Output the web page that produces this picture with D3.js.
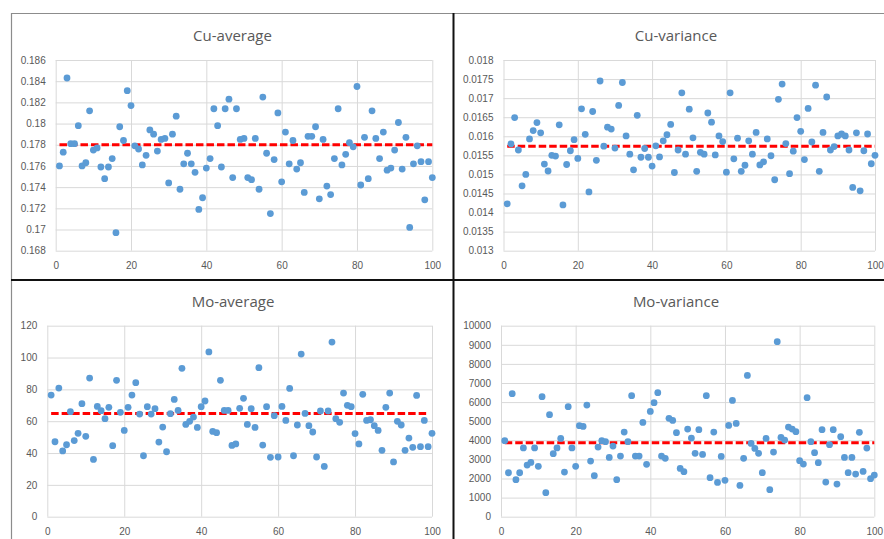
<!DOCTYPE html>
<html><head><meta charset="utf-8">
<script src="https://cdn.jsdelivr.net/npm/d3@7"></script>
<style>body{margin:0;background:#fff;} svg{display:block;}</style>
</head><body><svg id="c" width="884" height="539"></svg>
<script>
// ---------- data ----------
const titles = ["Cu-average", "Cu-variance", "Mo-average", "Mo-variance"];

const cuAverage = [
0.1760,0.1773,0.1843,0.1781,0.1781,0.1798,0.1760,0.1763,0.1812,0.1775,
0.1777,0.1759,0.1748,0.1759,0.1767,0.1697,0.1797,0.1784,0.1831,0.1817,
0.1779,0.1776,0.1761,0.1770,0.1794,0.1790,0.1774,0.1785,0.1786,0.1744,
0.1790,0.1807,0.1738,0.1762,0.1772,0.1762,0.1754,0.1719,0.1730,0.1758,
0.1767,0.1814,0.1798,0.1759,0.1814,0.1823,0.1749,0.1814,0.1785,0.1786,
0.1749,0.1747,0.1786,0.1738,0.1825,0.1772,0.1715,0.1766,0.1810,0.1745,
0.1792,0.1762,0.1784,0.1757,0.1763,0.1735,0.1788,0.1788,0.1797,0.1729,
0.1785,0.1741,0.1733,0.1767,0.1814,0.1761,0.1771,0.1782,0.1778,0.1835,
0.1742,0.1787,0.1748,0.1812,0.1786,0.1767,0.1792,0.1756,0.1758,0.1775,
0.1801,0.1757,0.1787,0.1702,0.1762,0.1779,0.1764,0.1728,0.1764,0.1749];

const cuVariance = [
0.01423,0.01580,0.01649,0.01564,0.01470,0.01500,0.01593,0.01615,0.01636,0.01609,
0.01527,0.01509,0.01550,0.01548,0.01630,0.01420,0.01526,0.01562,0.01591,0.01542,
0.01672,0.01605,0.01454,0.01665,0.01537,0.01745,0.01574,0.01624,0.01619,0.01569,
0.01681,0.01741,0.01601,0.01553,0.01512,0.01655,0.01545,0.01568,0.01545,0.01522,
0.01575,0.01546,0.01588,0.01604,0.01631,0.01505,0.01564,0.01714,0.01553,0.01671,
0.01596,0.01508,0.01558,0.01553,0.01661,0.01637,0.01551,0.01601,0.01586,0.01506,
0.01714,0.01541,0.01595,0.01508,0.01524,0.01588,0.01553,0.01610,0.01525,0.01533,
0.01593,0.01549,0.01486,0.01697,0.01737,0.01581,0.01502,0.01561,0.01649,0.01613,
0.01539,0.01673,0.01585,0.01734,0.01508,0.01610,0.01703,0.01564,0.01573,0.01601,
0.01606,0.01601,0.01564,0.01466,0.01609,0.01457,0.01562,0.01606,0.01528,0.01550];

const moAverage = [
76.4,47.1,80.8,41.3,45.2,66.0,47.8,52.4,71.0,50.5,
87.1,36.0,69.3,66.6,61.6,68.7,44.6,85.7,65.6,54.2,
68.7,76.4,84.2,64.5,38.3,69.1,64.5,67.9,46.9,56.3,
40.8,64.7,73.7,66.8,93.2,58.0,59.9,62.6,56.1,69.1,
72.7,103.5,53.6,52.8,85.7,66.8,66.8,44.8,45.7,68.1,
74.4,58.0,67.9,56.1,93.6,45.0,69.1,37.3,63.5,37.5,
69.3,60.5,80.6,38.3,57.6,102.2,64.9,57.2,53.2,37.5,
66.4,31.6,66.4,109.7,61.6,59.3,77.7,70.0,69.1,52.2,
45.7,76.9,60.5,60.9,57.2,54.2,41.7,68.7,77.7,34.4,
59.9,57.6,41.7,49.4,43.6,76.2,44.0,60.5,44.0,52.4];

const moVariance = [
3980,2300,6440,1940,2300,3600,2705,2844,3600,2635,
6282,1256,5340,3298,3600,4100,2338,5759,3600,2635,
4764,4729,5846,2914,2146,3647,3980,3926,3106,3699,
1937,3176,4432,3926,6334,3176,3176,4938,2740,5514,
5968,6491,3176,3054,5148,5043,4397,2530,2356,4589,
4118,3316,4554,3263,6334,2042,4432,1797,3158,1902,
4781,6090,4886,1640,3054,7399,3839,3577,3316,2303,
4100,1413,3385,9161,4153,4013,4694,4589,4450,2932,
2757,6230,3926,3350,2827,4554,1815,3769,4554,1710,
4188,3106,2303,3106,2234,4415,2373,3595,1989,2181];

const meanValues = [0.178, 0.01574, 64.9, 3874];
const meanStartX = [1, 1, 1, 1];
const meanEndX = [100, 100, 98.5, 100];

const xTickValues = [0, 20, 40, 60, 80, 100];
const cuAverageTicks = [0.168,0.17,0.172,0.174,0.176,0.178,0.18,0.182,0.184,0.186];
const cuVarianceTicks = [0.013,0.0135,0.014,0.0145,0.015,0.0155,0.016,0.0165,0.017,0.0175,0.018];
const moAverageTicks = [0,20,40,60,80,100,120];
const moVarianceTicks = [0,1000,2000,3000,4000,5000,6000,7000,8000,9000,10000];

// ---------- layout ----------
const series = [cuAverage, cuVariance, moAverage, moVariance];
const yTicks = [cuAverageTicks, cuVarianceTicks, moAverageTicks, moVarianceTicks];
const boxes = [
  {x0: 55.7, x1: 432.3, y0: 60,    y1: 250.7, tx: 232.5, ty: 35},
  {x0: 503.5, x1: 875,  y0: 60,    y1: 250.7, tx: 676,   ty: 35},
  {x0: 47.3, x1: 432,   y0: 325.7, y1: 516.7, tx: 233,   ty: 301},
  {x0: 501,  x1: 874.3, y0: 325.7, y1: 516.7, tx: 676,   ty: 301}
];

const svg = d3.select("#c");
svg.append("rect").attr("width", 884).attr("height", 539).attr("fill", "#fff");

const fmt = d => String(+(+d).toFixed(6));
const textCol = "#595959";
const font = "'Liberation Sans', Arial, sans-serif";

series.forEach((data, k) => {
  const b = boxes[k];
  const t = yTicks[k];
  const g = svg.append("g");
  const x = d3.scaleLinear().domain([0, 100]).range([b.x0, b.x1]);
  const y = d3.scaleLinear().domain([t[0], t[t.length - 1]]).range([b.y1, b.y0]);

  const xa = g.append("g").attr("transform", `translate(0,${b.y1})`)
    .call(d3.axisBottom(x).tickValues(xTickValues).tickSize(-(b.y1 - b.y0)).tickPadding(11).tickFormat(fmt));
  const ya = g.append("g").attr("transform", `translate(${b.x0},0)`)
    .call(d3.axisLeft(y).tickValues(t).tickSize(-(b.x1 - b.x0)).tickPadding(10).tickFormat(fmt));
  [xa, ya].forEach(a => {
    a.select(".domain").remove();
    a.selectAll(".tick line").attr("stroke", "#d9d9d9").attr("stroke-width", 1);
    a.selectAll(".tick text").attr("fill", textCol).style("font-family", font).style("font-size", "10px");
  });

  g.append("line")
    .attr("x1", x(meanStartX[k])).attr("x2", x(meanEndX[k]))
    .attr("y1", y(meanValues[k])).attr("y2", y(meanValues[k]))
    .attr("stroke", "#ff0000").attr("stroke-width", 3).attr("stroke-dasharray", "7.5,3");

  g.selectAll("circle").data(data).enter().append("circle")
    .attr("cx", (d, i) => x(i + 1)).attr("cy", d => y(d)).attr("r", 3.4)
    .attr("fill", "#5b9bd5");

  g.append("text").attr("x", b.tx).attr("y", b.ty)
    .attr("text-anchor", "middle").attr("dominant-baseline", "central")
    .attr("fill", textCol).style("font-family", "'Open Sans', sans-serif").style("font-size", "15px")
    .text(titles[k]);
});

// frame lines
svg.append("line").attr("x1", 11).attr("x2", 884).attr("y1", 13.5).attr("y2", 13.5).attr("stroke", "#8c8c8c").attr("stroke-width", 1.2);
svg.append("line").attr("x1", 11.5).attr("x2", 11.5).attr("y1", 13).attr("y2", 539).attr("stroke", "#8c8c8c").attr("stroke-width", 1.2);
svg.append("line").attr("x1", 453.5).attr("x2", 453.5).attr("y1", 13).attr("y2", 539).attr("stroke", "#111").attr("stroke-width", 2);
svg.append("line").attr("x1", 11).attr("x2", 884).attr("y1", 280).attr("y2", 280).attr("stroke", "#111").attr("stroke-width", 2);
</script></body></html>
